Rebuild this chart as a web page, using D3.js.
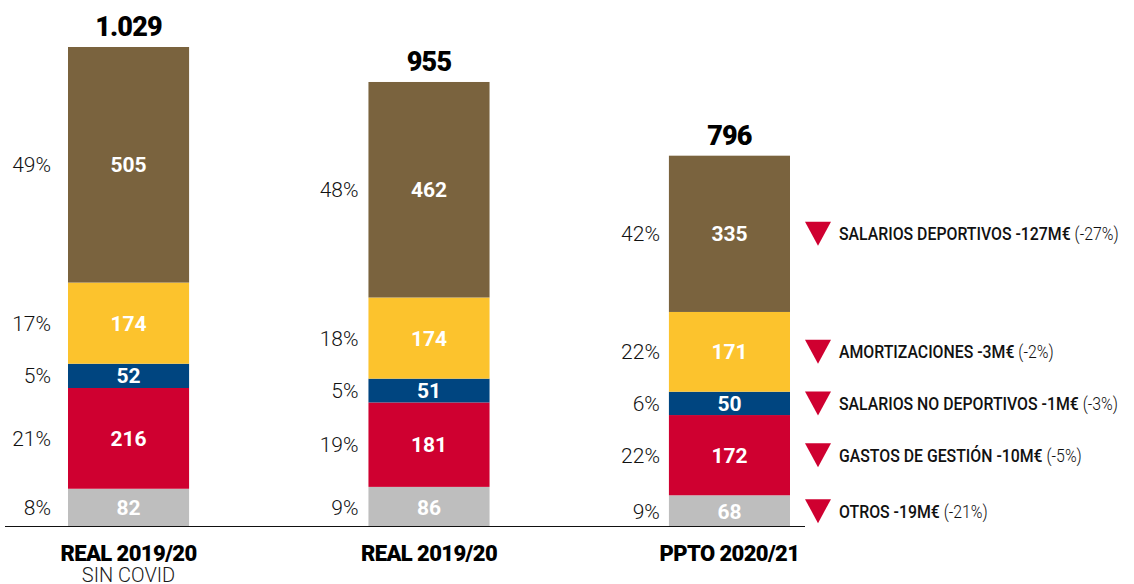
<!DOCTYPE html>
<html lang="es">
<head>
<meta charset="utf-8">
<script src="https://cdn.jsdelivr.net/npm/d3@7"></script>
<style>
  html, body { margin: 0; padding: 0; background: #fff; }
  svg { display: block; }
</style>
</head>
<body>
<svg id="chart" width="1134" height="584"></svg>
<script>
// ---- Data -------------------------------------------------------------
const columnIds      = ["real1920sc", "real1920", "ppto2021"];
const columnLabels   = ["REAL 2019/20", "REAL 2019/20", "PPTO 2020/21"];
const columnSubLabel = ["SIN COVID", "", ""];
const totals         = [1029, 955, 796];

// stacked from the bottom up
const seriesKeys = ["otros", "gestion", "salNoDep", "amort", "salDep"];
const otros    = [82, 86, 68];
const gestion  = [216, 181, 172];
const salNoDep = [52, 51, 50];
const amort    = [174, 174, 171];
const salDep   = [505, 462, 335];

const pctOtros    = [8, 9, 9];
const pctGestion  = [21, 19, 22];
const pctSalNoDep = [5, 5, 6];
const pctAmort    = [17, 18, 22];
const pctSalDep   = [49, 48, 42];

// variation notes next to the budget column (top to bottom)
const noteSeries = ["salDep", "amort", "salNoDep", "gestion", "otros"];
const noteMain   = ["SALARIOS DEPORTIVOS -127M€", "AMORTIZACIONES -3M€", "SALARIOS NO DEPORTIVOS -1M€", "GASTOS DE GESTIÓN -10M€", "OTROS -19M€"];
const notePct    = ["(-27%)", "(-2%)", "(-3%)", "(-5%)", "(-21%)"];

// ---- Styling / layout ---------------------------------------------------
const colors = {
  otros: "#bebebe",
  gestion: "#cf0030",
  salNoDep: "#004580",
  amort: "#fcc32d",
  salDep: "#7a633e"
};
const pctGap = [17, 10, 9];
const FONT = "Roboto, 'Liberation Sans', Arial, sans-serif";

const svg = d3.select("#chart");

const x = d3.scaleBand()
  .domain(columnIds)
  .range([68, 790])
  .paddingInner(0.597)
  .paddingOuter(0);

const y = d3.scaleLinear()
  .domain([0, 1029])
  .range([527, 47]);

// build table for the stack
const valuesBySeries = { otros, gestion, salNoDep, amort, salDep };
const pctBySeries = { otros: pctOtros, gestion: pctGestion, salNoDep: pctSalNoDep, amort: pctAmort, salDep: pctSalDep };
const table = columnIds.map((id, i) => {
  const row = { id, i };
  seriesKeys.forEach(k => row[k] = valuesBySeries[k][i]);
  return row;
});
const stacked = d3.stack().keys(seriesKeys)(table);

// ---- Bars ---------------------------------------------------------------
const layers = svg.append("g").selectAll("g")
  .data(stacked)
  .join("g")
  .attr("fill", d => colors[d.key]);

layers.selectAll("rect")
  .data(d => d.map(s => ({ key: d.key, s })))
  .join("rect")
  .attr("x", d => x(d.s.data.id))
  .attr("width", x.bandwidth())
  .attr("y", d => y(d.s[1]))
  .attr("height", d => y(d.s[0]) - y(d.s[1]));

// value inside each segment
layers.selectAll("text.val")
  .data(d => d.map(s => ({ key: d.key, s })))
  .join("text")
  .attr("class", "val")
  .attr("x", d => x(d.s.data.id) + x.bandwidth() / 2)
  .attr("y", d => (y(d.s[0]) + y(d.s[1])) / 2)
  .attr("dy", "0.36em")
  .attr("text-anchor", "middle")
  .attr("font-family", FONT)
  .attr("font-weight", 700)
  .attr("font-size", 21)
  .attr("fill", "#fff")
  .text(d => d.s.data[d.key]);

// share of total, left of each segment
layers.selectAll("text.pct")
  .data(d => d.map(s => ({ key: d.key, s })))
  .join("text")
  .attr("class", "pct")
  .attr("x", d => x(d.s.data.id) - pctGap[d.s.data.i])
  .attr("y", d => (y(d.s[0]) + y(d.s[1])) / 2)
  .attr("dy", "0.36em")
  .attr("text-anchor", "end")
  .attr("font-family", FONT)
  .attr("font-weight", 300)
  .attr("font-size", 21)
  .attr("fill", "#111")
  .text(d => pctBySeries[d.key][d.s.data.i] + "%");

// ---- Totals -------------------------------------------------------------
const esLocale = d3.formatLocale({ decimal: ",", thousands: ".", grouping: [3], currency: ["", "€"] });
const fmtTotal = esLocale.format(",d");
const topOf = columnIds.map((id, i) => d3.sum(seriesKeys, k => valuesBySeries[k][i]));

svg.append("g").selectAll("text")
  .data(columnIds)
  .join("text")
  .attr("x", d => x(d) + x.bandwidth() / 2)
  .attr("y", (d, i) => y(topOf[i]) - 11)
  .attr("text-anchor", "middle")
  .attr("font-family", FONT)
  .attr("font-weight", 900)
  .attr("font-size", 27)
  .attr("letter-spacing", -0.8)
  .attr("fill", "#000")
  .text((d, i) => fmtTotal(totals[i]));

// ---- Baseline -----------------------------------------------------------
svg.append("line")
  .attr("x1", 5).attr("x2", 805)
  .attr("y1", y(0) - 0.5).attr("y2", y(0) - 0.5)
  .attr("stroke", "#111")
  .attr("stroke-width", 1.2);

// ---- Column labels ------------------------------------------------------
const cat = svg.append("g").selectAll("g")
  .data(columnIds)
  .join("g")
  .attr("transform", d => `translate(${x(d) + x.bandwidth() / 2},0)`);

cat.append("text")
  .attr("y", 561)
  .attr("text-anchor", "middle")
  .attr("font-family", FONT)
  .attr("font-weight", 900)
  .attr("font-size", 22)
  .attr("letter-spacing", -0.6)
  .attr("fill", "#000")
  .text((d, i) => columnLabels[i]);

cat.append("text")
  .attr("y", 582)
  .attr("text-anchor", "middle")
  .attr("font-family", FONT)
  .attr("font-weight", 300)
  .attr("font-size", 20)
  .attr("fill", "#1a1a1a")
  .text((d, i) => columnSubLabel[i]);

// ---- Variation notes ----------------------------------------------------
const segMid = k => {
  const layer = stacked.find(s => s.key === k);
  const s = layer[2];
  return (y(s[0]) + y(s[1])) / 2;
};

const notes = svg.append("g").selectAll("g")
  .data(noteSeries)
  .join("g")
  .attr("transform", d => `translate(805,${segMid(d)})`);

notes.append("path")
  .attr("d", "M0,-12 L26,-12 L13,12 Z")
  .attr("fill", "#cf0030");

const noteText = notes.append("text")
  .attr("transform", "translate(34,0) scale(0.88,1)")
  .attr("y", 0)
  .attr("dy", "0.36em")
  .attr("font-family", FONT)
  .attr("font-size", 18)
  .attr("fill", "#111");

noteText.append("tspan")
  .attr("font-weight", 500)
  .text((d, i) => noteMain[i] + " ");

noteText.append("tspan")
  .attr("font-weight", 300)
  .text((d, i) => notePct[i]);
</script>
</body>
</html>
